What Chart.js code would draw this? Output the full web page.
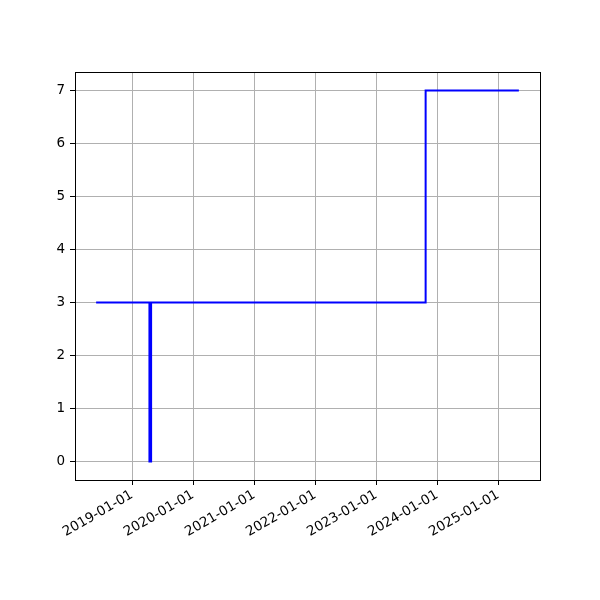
<!DOCTYPE html>
<html>
<head>
<meta charset="utf-8">
<script src="https://cdn.jsdelivr.net/npm/chart.js@4"></script>
<style>
  html, body { margin: 0; padding: 0; background: #fff; }
  #wrap { width: 600px; height: 600px; }
</style>
</head>
<body>
<div id="wrap"><canvas id="c" width="600" height="600"></canvas></div>
<script>
const dates = ["2018-05-31", "2019-04-15", "2019-04-25", "2023-10-24", "2025-05-04"];
const values = [3, 0, 3, 7, 7];
const xTickLabels = ["2019-01-01", "2020-01-01", "2021-01-01", "2022-01-01", "2023-01-01", "2024-01-01", "2025-01-01"];
const yTicks = [0, 1, 2, 3, 4, 5, 6, 7];

const toMs = s => Date.parse(s + "T00:00:00Z");
const pts = dates.map((d, i) => ({ x: toMs(d), y: values[i] }));
const xs = pts.map(p => p.x);
const xMinD = Math.min(...xs), xMaxD = Math.max(...xs);
const xPad = (xMaxD - xMinD) * 0.05;
const yMinD = Math.min(...values), yMaxD = Math.max(...values);
const yPad = (yMaxD - yMinD) * 0.05;

const fmt = ms => {
  const d = new Date(ms);
  const p = n => String(n).padStart(2, "0");
  return d.getUTCFullYear() + "-" + p(d.getUTCMonth() + 1) + "-" + p(d.getUTCDate());
};

const frame = {
  id: "frame",
  afterDraw(chart) {
    const { ctx, chartArea: a } = chart;
    ctx.save();
    ctx.strokeStyle = "#000";
    ctx.lineWidth = 1;
    ctx.strokeRect(Math.round(a.left) + 0.5, Math.round(a.top) + 0.5, Math.round(a.right - a.left), Math.round(a.bottom - a.top));
    ctx.restore();
  }
};

const font = { family: "DejaVu Sans", size: 13.5 };

new Chart(document.getElementById("c"), {
  type: "line",
  data: {
    datasets: [{
      data: pts,
      borderColor: "#0000ff",
      borderWidth: 2,
      pointRadius: 0,
      stepped: "before",
      fill: false
    }]
  },
  options: {
    responsive: false,
    animation: false,
    layout: { padding: { top: 72, right: 60, left: 0, bottom: 0 } },
    plugins: { legend: { display: false }, tooltip: { enabled: false } },
    scales: {
      x: {
        type: "linear",
        min: xMinD - xPad,
        max: xMaxD + xPad,
        afterBuildTicks(scale) {
          scale.ticks = xTickLabels.map(s => ({ value: toMs(s) }));
        },
        afterFit(scale) { scale.height = 120; },
        ticks: {
          autoSkip: false,
          minRotation: 30,
          maxRotation: 30,
          color: "#000",
          font,
          padding: 2,
          callback: v => fmt(v)
        },
        grid: { color: "#b0b0b0", lineWidth: 1, tickColor: "#000", tickLength: 5 },
        border: { color: "#000", width: 1 }
      },
      y: {
        type: "linear",
        min: yMinD - yPad,
        max: yMaxD + yPad,
        afterBuildTicks(scale) {
          scale.ticks = yTicks.map(v => ({ value: v }));
        },
        afterFit(scale) { scale.width = 75; },
        ticks: { color: "#000", font, padding: 5, callback: v => String(v) },
        grid: { color: "#b0b0b0", lineWidth: 1, tickColor: "#000", tickLength: 5 },
        border: { color: "#000", width: 1 }
      }
    }
  },
  plugins: [frame]
});
</script>
</body>
</html>
